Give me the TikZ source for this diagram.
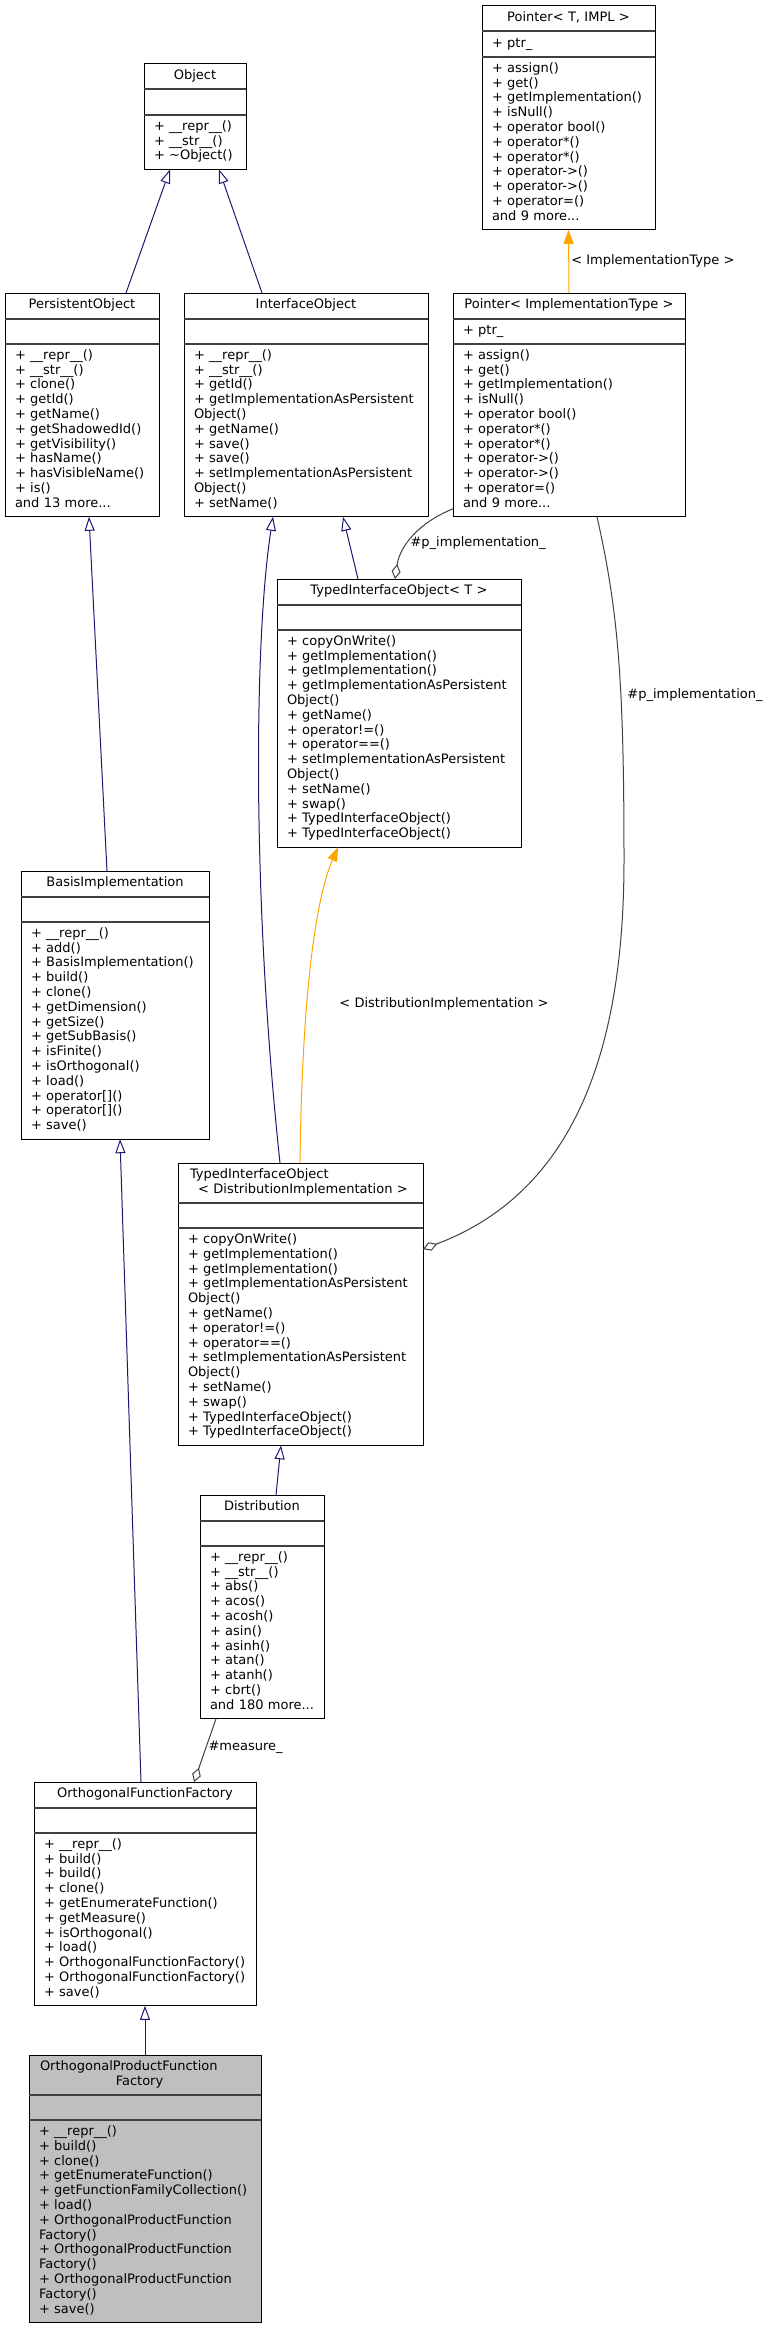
\documentclass[tikz,border=0pt]{standalone}
\usepackage{fontspec}
\setmainfont{DejaVu Sans}
\usetikzlibrary{positioning,arrows.meta}

\definecolor{azulnoche}{RGB}{25,25,112}
\definecolor{naranja}{RGB}{255,165,0}
\definecolor{grisosc}{RGB}{64,64,64}
\definecolor{grisclaro}{RGB}{191,191,191}

\tikzset{
  base/.style={draw=black, line width=1pt, outer sep=0pt, inner xsep=0pt, inner ysep=5pt,
    minimum height=25.5pt, font=\fontsize{13}{14.8}\selectfont, execute at end node=\strut},
  cab/.style={base, execute at begin node={\centering\strut}},
  caja/.style={base, execute at begin node={\raggedright\leftskip=10pt\relax\strut}},
  separador/.style={draw=grisosc, line width=2pt},
  etiq/.style={font=\fontsize{13}{14.8}\selectfont, inner sep=2pt},
  herencia/.style={draw=azulnoche, line width=1pt, -{Triangle[length=14pt, width=10pt, fill=white]}},
  plantilla/.style={draw=naranja, line width=1pt, -{Triangle[length=14pt, width=10pt]}},
  agregacion/.style={draw=grisosc, line width=1pt, -{Diamond[length=15pt, width=9pt, fill=white]}}
}

% clase UML: [relleno]{nombre}{esquina}{ancho}{cabecera}{atributos}{métodos}
\newcommand{\clase}[7][white]{%
  \node[cab, fill=#1, text width=#4pt, minimum width=#4pt, anchor=north west] (#2) at (#3) {#5};
  \node[caja, fill=#1, text width=#4pt, minimum width=#4pt, below=0pt of #2] (#2-a) {#6};
  \node[caja, fill=#1, text width=#4pt, minimum width=#4pt, below=0pt of #2-a] (#2-m) {#7};
  \draw[separador] (#2-a.north west) -- (#2-a.north east) (#2-a.south west) -- (#2-a.south east);
}

\begin{document}
\begin{tikzpicture}[x=1pt, y=-1pt]
  % Marco fijo (en píxeles de la imagen)
  \useasboundingbox (0,0) rectangle (769,2328);

  % Raíces
  \clase{obj}{144,64}{102}{Object}{}{+ \_\_repr\_\_()\\+ \_\_str\_\_()\\+ \textasciitilde Object()}
  \clase{ptrT}{482,6}{173}{Pointer< T, IMPL >}{+ ptr\_}{+ assign()\\+ get()\\+ getImplementation()\\+ isNull()\\+ operator bool()\\+ operator*()\\+ operator*()\\+ operator->()\\+ operator->()\\+ operator=()\\and 9 more...}

  % Segunda fila
  \clase{per}{5,293}{154}{PersistentObject}{}{+ \_\_repr\_\_()\\+ \_\_str\_\_()\\+ clone()\\+ getId()\\+ getName()\\+ getShadowedId()\\+ getVisibility()\\+ hasName()\\+ hasVisibleName()\\+ is()\\and 13 more...}
  \clase{ifo}{184,293}{244}{InterfaceObject}{}{+ \_\_repr\_\_()\\+ \_\_str\_\_()\\+ getId()\\+ getImplementationAsPersistent\\Object()\\+ getName()\\+ save()\\+ save()\\+ setImplementationAsPersistent\\Object()\\+ setName()}
  \clase{ptrI}{453,293}{232}{Pointer< ImplementationType >}{+ ptr\_}{+ assign()\\+ get()\\+ getImplementation()\\+ isNull()\\+ operator bool()\\+ operator*()\\+ operator*()\\+ operator->()\\+ operator->()\\+ operator=()\\and 9 more...}

  % Plantillas de objeto tipado
  \clase{tioT}{277,579}{244}{TypedInterfaceObject< T >}{}{+ copyOnWrite()\\+ getImplementation()\\+ getImplementation()\\+ getImplementationAsPersistent\\Object()\\+ getName()\\+ operator!=()\\+ operator==()\\+ setImplementationAsPersistent\\Object()\\+ setName()\\+ swap()\\+ TypedInterfaceObject()\\+ TypedInterfaceObject()}
  \clase{basis}{21,871}{188}{BasisImplementation}{}{+ \_\_repr\_\_()\\+ add()\\+ BasisImplementation()\\+ build()\\+ clone()\\+ getDimension()\\+ getSize()\\+ getSubBasis()\\+ isFinite()\\+ isOrthogonal()\\+ load()\\+ operator[]()\\+ operator[]()\\+ save()}
  \clase{tioD}{178,1163}{245}{\leftskip=12pt\rightskip=0pt plus 1fil\parfillskip=0pt plus 1fil\relax TypedInterfaceObject\\\hspace*{5pt}< DistributionImplementation >}{}{+ copyOnWrite()\\+ getImplementation()\\+ getImplementation()\\+ getImplementationAsPersistent\\Object()\\+ getName()\\+ operator!=()\\+ operator==()\\+ setImplementationAsPersistent\\Object()\\+ setName()\\+ swap()\\+ TypedInterfaceObject()\\+ TypedInterfaceObject()}

  % Parte inferior
  \clase{dist}{200,1495}{124}{Distribution}{}{+ \_\_repr\_\_()\\+ \_\_str\_\_()\\+ abs()\\+ acos()\\+ acosh()\\+ asin()\\+ asinh()\\+ atan()\\+ atanh()\\+ cbrt()\\and 180 more...}
  \clase{off}{34,1782}{222}{OrthogonalFunctionFactory}{}{+ \_\_repr\_\_()\\+ build()\\+ build()\\+ clone()\\+ getEnumerateFunction()\\+ getMeasure()\\+ isOrthogonal()\\+ load()\\+ OrthogonalFunctionFactory()\\+ OrthogonalFunctionFactory()\\+ save()}
  \clase[grisclaro]{opff}{29,2055}{232}{\leftskip=11pt\rightskip=0pt plus 1fil\parfillskip=0pt plus 1fil\relax OrthogonalProductFunction\\\hspace*{\fill}Factory\hspace*{\fill}\hspace*{11pt}}{}{+ \_\_repr\_\_()\\+ build()\\+ clone()\\+ getEnumerateFunction()\\+ getFunctionFamilyCollection()\\+ load()\\+ OrthogonalProductFunction\\Factory()\\+ OrthogonalProductFunction\\Factory()\\+ OrthogonalProductFunction\\Factory()\\+ save()}

  % Herencia (triángulo hueco)
  \draw[herencia] ([xshift=44pt]per.north) -- ([xshift=-25pt]obj-m.south);
  \draw[herencia] ([xshift=-44pt]ifo.north) -- ([xshift=24pt]obj-m.south);
  \draw[herencia] ([xshift=-8pt]basis.north) -- ([xshift=7pt]per-m.south);
  \draw[herencia] ([xshift=-41pt]tioT.north) -- ([xshift=37pt]ifo-m.south);
  \draw[herencia] ([xshift=-20.5pt]tioD.north) .. controls (252,900) and (254,640) .. ([xshift=-33pt]ifo-m.south);
  \draw[herencia] ([xshift=14pt]dist.north) -- ([xshift=-19.5pt]tioD-m.south);
  \draw[herencia] ([xshift=-4pt]off.north) -- ([xshift=5pt]basis-m.south);
  \draw[herencia] (opff.north) -- (off-m.south);

  % Instancias de plantilla (naranja)
  \draw[plantilla] (ptrI.north) -- node[etiq, anchor=west] {< ImplementationType >} (ptrT-m.south);
  \draw[plantilla] ([xshift=-0.5pt]tioD.north) .. controls (302,1000) and (315,900) .. ([xshift=-61pt]tioT-m.south)
    node[etiq, pos=0.38, anchor=west, xshift=30pt] {< DistributionImplementation >};

  % Agregación (rombo hueco)
  \draw[agregacion] ([yshift=8pt]ptrI-m.south west) .. controls (420,522) and (400,545) .. ([xshift=-4pt]tioT.north)
    node[etiq, pos=0.6, anchor=west] {\#p\_implementation\_};
  \draw[agregacion] ([xshift=28pt]ptrI-m.south) .. controls (618,610) and (624,680) .. (624,860)
    node[etiq, pos=0.62, anchor=west, xshift=4pt] {\#p\_implementation\_}
    .. controls (624,1040) and (580,1190) .. ([yshift=-21pt]tioD-m.north east);
  \draw[agregacion] ([xshift=-46pt]dist-m.south) -- ([xshift=49pt]off.north)
    node[etiq, pos=0.45, anchor=west] {\#measure\_};
\end{tikzpicture}
\end{document}
